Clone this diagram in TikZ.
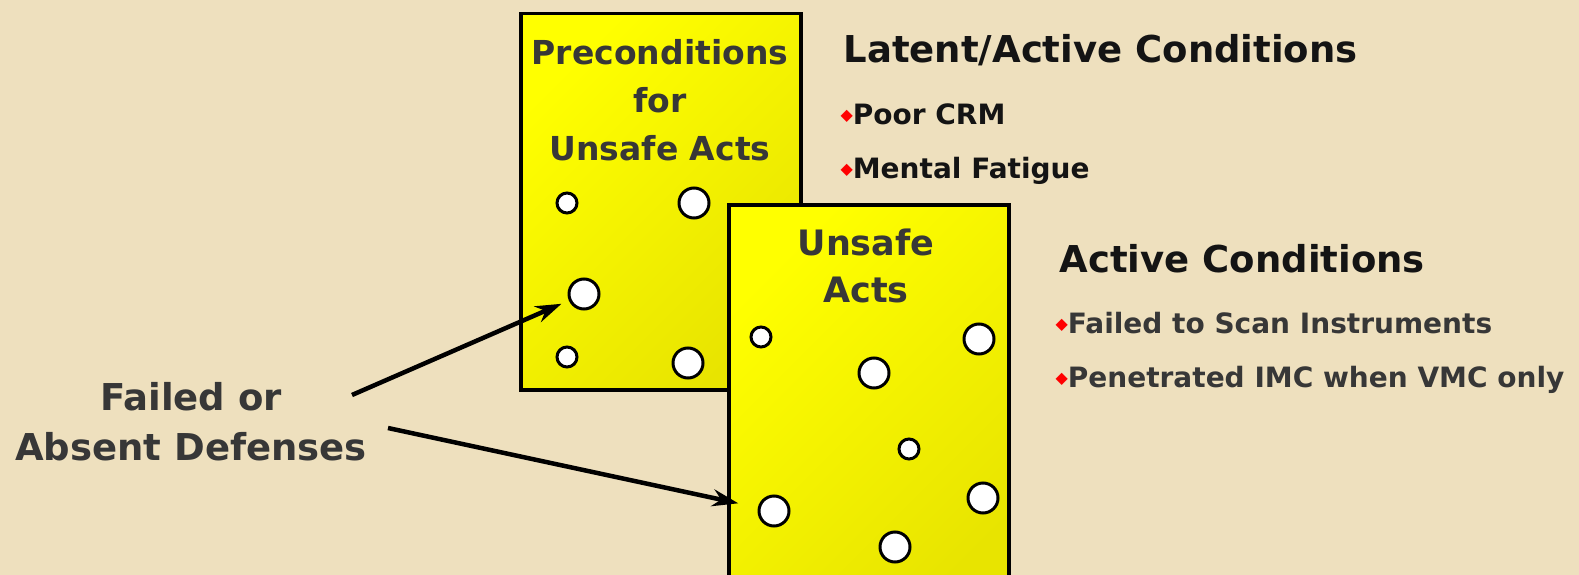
\documentclass[tikz,border=0pt]{standalone}
\usepackage{fontspec}
\setmainfont{DejaVu Sans}
\usetikzlibrary{arrows.meta,positioning}

\definecolor{parchment}{RGB}{238,224,190}
\definecolor{ink}{RGB}{55,55,55}
\definecolor{darkink}{RGB}{20,20,20}
\definecolor{boxhi}{RGB}{255,255,0}
\definecolor{boxlo}{RGB}{232,228,0}

\newcommand{\bul}{{\color{red}\fontsize{16}{16}\selectfont\raisebox{4pt}{◆}}}

\begin{document}
\begin{tikzpicture}[x=1pt,y=-1pt,
  layer/.style={draw,line width=3.5pt,top color=boxhi,bottom color=boxlo,
    shading angle=45,minimum width=280pt,anchor=north west,inner sep=0pt},
  hole/.style={circle,draw,fill=white,line width=3pt,inner sep=0pt},
  boxtext/.style={text=ink,align=center,font=\bfseries\fontsize{33}{48}\selectfont},
  head/.style={text=darkink,anchor=west,font=\bfseries\fontsize{37}{46}\selectfont},
  item/.style={text=darkink,anchor=west,font=\bfseries\fontsize{28}{34}\selectfont},
  pointer/.style={line width=4.5pt,-{Stealth[length=26pt,width=17pt]}}]

  \useasboundingbox (0,0) rectangle (1579,575);
  \clip (0,0) rectangle (1579,575);
  \fill[parchment] (0,0) rectangle (1579,575);

  % the two layers
  \node[layer,minimum height=376pt] (pre) at (519,12) {};
  \node[layer,minimum height=420pt] (act) at (727,203) {};

  \node[boxtext] (pretitle) at (660,100) {Preconditions\\for\\Unsafe Acts};
  \node[boxtext,font=\bfseries\fontsize{35}{47}\selectfont] (acttitle) at (866,266) {Unsafe\\Acts};

  % holes
  \begin{scope}[every node/.style={hole}]
    \node[minimum size=20pt] (p1) at (567,203) {};
    \node[minimum size=30pt] (p2) at (694,203) {};
    \node[minimum size=30pt] (p3) at (584,294) {};
    \node[minimum size=20pt] (p4) at (567,357) {};
    \node[minimum size=30pt] (p5) at (688,363) {};

    \node[minimum size=20pt] (a1) at (761,337) {};
    \node[minimum size=30pt] (a2) at (979,339) {};
    \node[minimum size=30pt] (a3) at (874,373) {};
    \node[minimum size=20pt] (a4) at (909,449) {};
    \node[minimum size=30pt] (a5) at (983,498) {};
    \node[minimum size=30pt] (a6) at (774,511) {};
    \node[minimum size=30pt] (a7) at (895,547) {};
  \end{scope}

  % conditions
  \node[head] (latent) at (840,50) {Latent/Active Conditions};
  \node[item] (crm) at (837,114) {\bul Poor CRM};
  \node[item] (fatigue) at (837,171) {\bul Mental Fatigue};

  \node[head] (active) at (1056,259) {Active Conditions};
  \node[item,text=ink] (scan) at (1052,323) {\bul Failed to Scan Instruments};
  \node[item,text=ink] (imc) at (1052,380) {\bul Penetrated IMC when VMC only};

  % defenses
  \node[boxtext,font=\bfseries\fontsize{37}{50}\selectfont] (defenses) at (191,422) {Failed or\\Absent Defenses};
  \coordinate (d1) at (352,395);
  \coordinate (d2) at (388,428);
  \draw[pointer,shorten >=8pt] (d1) -- (p3);
  \draw[pointer,shorten >=20pt] (d2) -- (a6);

\end{tikzpicture}
\end{document}
